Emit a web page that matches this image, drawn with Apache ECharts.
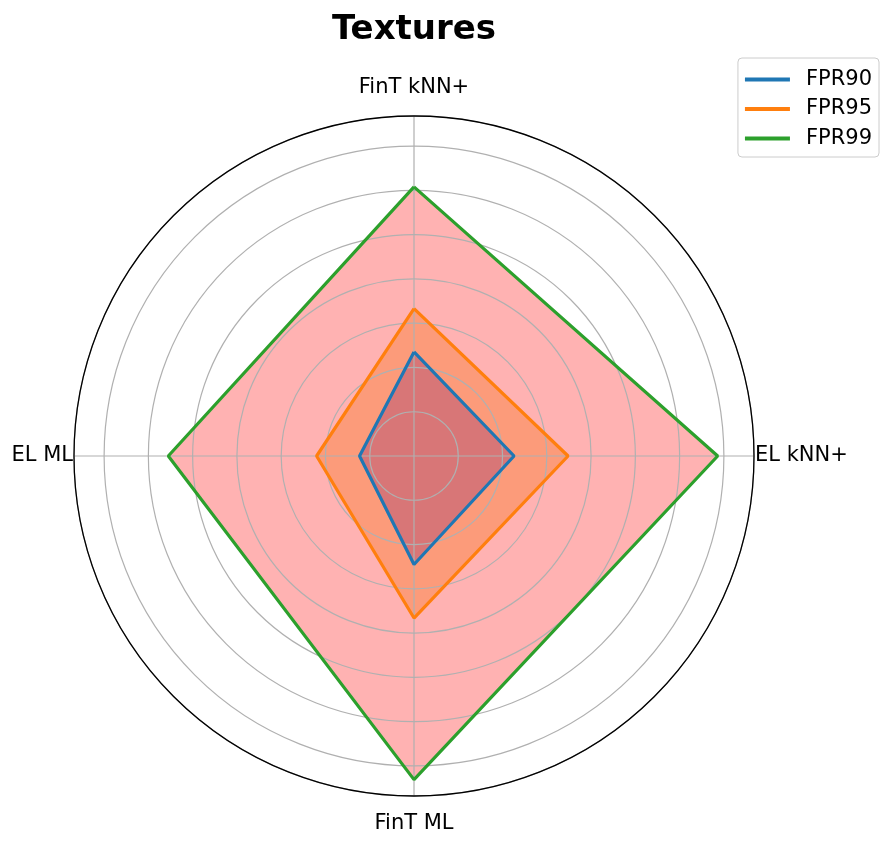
<!DOCTYPE html>
<html>
<head>
<meta charset="utf-8">
<title>Textures</title>
<script src="https://cdn.jsdelivr.net/npm/echarts@6/dist/echarts.min.js"></script>
<style>
  html, body { margin: 0; padding: 0; background: #fff; }
  #chart { width: 894px; height: 850px; }
</style>
</head>
<body>
<div id="chart"></div>
<script>
// axes of the radar, clockwise from the top
var categories = ["FinT kNN+", "EL kNN+", "FinT ML", "EL ML"];
var seriesNames = ["FPR90", "FPR95", "FPR99"];
var fpr90 = [23.5, 22.6, 24.5, 12.3];
var fpr95 = [33.3, 34.8, 36.6, 22.0];
var fpr99 = [60.8, 68.6, 73.1, 55.5];
var radialMax = 76.8; // autoscale margin like matplotlib
var radialStep = 10;

var lineColors = ["#1f77b4", "#ff7f0e", "#2ca02c"];
var fillColors = ["rgba(149,49,116,0.35)", "rgba(246,112,18,0.35)", "rgba(255,0,0,0.3)"];

function toPolar(vals) {
  var pts = vals.map(function (v, i) { return [v, i * 90]; });
  pts.push([vals[0], 360]); // close the shape
  return pts;
}

var allData = [fpr90, fpr95, fpr99];
var series = [];
// outlines first so the legend picks up their style
allData.forEach(function (vals, i) {
  series.push({
    name: seriesNames[i],
    type: "line",
    coordinateSystem: "polar",
    symbol: "none",
    data: toPolar(vals),
    lineStyle: { color: lineColors[i], width: 3.2 },
    itemStyle: { color: lineColors[i] },
    z: 5,
    animation: false
  });
});
// fills, drawn below the grid like matplotlib does
[2, 1, 0].forEach(function (i) {
  series.push({
    name: seriesNames[i] + " fill",
    type: "line",
    coordinateSystem: "polar",
    symbol: "none",
    data: toPolar(allData[i]),
    lineStyle: { width: 0, opacity: 0 },
    areaStyle: { color: fillColors[i], opacity: 1 },
    silent: true,
    z: 1,
    animation: false
  });
});

var chart = echarts.init(document.getElementById("chart"));
chart.setOption({
  backgroundColor: "#ffffff",
  textStyle: { fontFamily: "DejaVu Sans" },
  title: {
    text: "Textures",
    left: 409,
    textAlign: "center",
    top: 8,
    textStyle: { fontSize: 34, fontWeight: "bold", color: "#000", fontFamily: "DejaVu Sans" }
  },
  legend: {
    data: seriesNames,
    orient: "vertical",
    right: 15,
    top: 58,
    icon: "rect",
    itemWidth: 45,
    itemHeight: 4,
    itemGap: 8.5,
    padding: [11, 7, 8, 7],
    borderColor: "#cccccc",
    borderWidth: 1,
    borderRadius: 4,
    textStyle: { fontSize: 21, color: "#000", padding: [0, 0, 0, 11], fontFamily: "DejaVu Sans" }
  },
  polar: {
    center: [414, 456],
    radius: 340
  },
  angleAxis: {
    type: "value",
    min: 0,
    max: 360,
    interval: 90,
    startAngle: 90,
    clockwise: true,
    z: 3,
    axisLine: { lineStyle: { color: "#000", width: 1.3 } },
    axisTick: { show: false },
    splitLine: { lineStyle: { color: "#b0b0b0", width: 1.2 } },
    axisLabel: {
      margin: 1,
      fontSize: 21,
      color: "#000",
      formatter: function (v) {
        var idx = Math.round(v / 90);
        if (idx >= categories.length) return "";
        var key = ["t", "r", "b", "l"][idx];
        return "{" + key + "|" + categories[idx] + "}";
      },
      rich: {
        t: { fontSize: 21, color: "#000", padding: [0, 0, 17, 0] },
        r: { fontSize: 21, color: "#000" },
        b: { fontSize: 21, color: "#000", padding: [16, 0, 0, 0] },
        l: { fontSize: 21, color: "#000" }
      }
    }
  },
  radiusAxis: {
    type: "value",
    min: 0,
    max: radialMax,
    interval: radialStep,
    z: 3,
    axisLine: { show: false },
    axisTick: { show: false },
    axisLabel: { show: false },
    splitLine: { showMaxLine: false, lineStyle: { color: "#b0b0b0", width: 1.2 } }
  },
  series: series
});
</script>
</body>
</html>
